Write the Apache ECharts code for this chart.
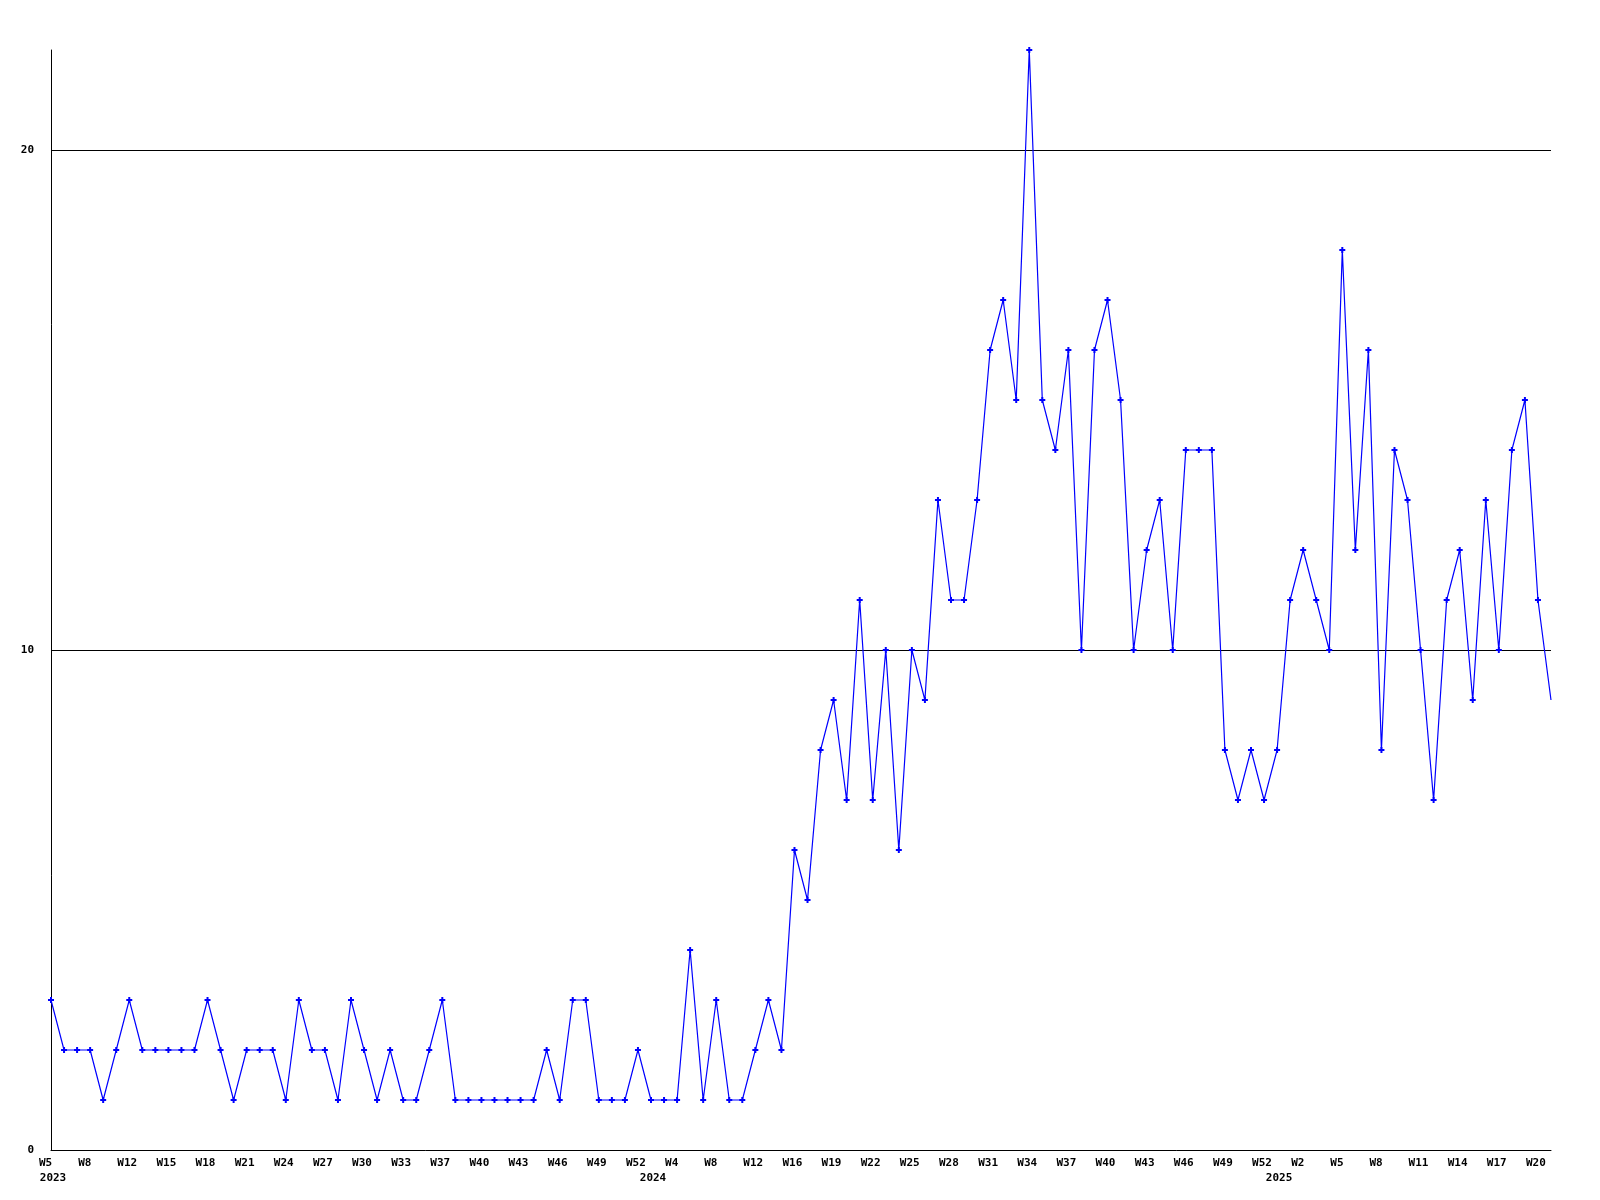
<!DOCTYPE html>
<html>
<head>
<meta charset="utf-8">
<script src="https://cdn.jsdelivr.net/npm/echarts@6/dist/echarts.min.js"></script>
<style>
html,body{margin:0;padding:0;background:#fff;}
#chart{width:1600px;height:1200px;}
</style>
</head>
<body>
<div id="chart"></div>
<script>
// Tick labels shown every 3rd point on the x axis
var tickLabels = ['W5','W8','W12','W15','W18','W21','W24','W27','W30','W33','W37','W40','W43','W46','W49','W52',
  'W4','W8','W12','W16','W19','W22','W25','W28','W31','W34','W37','W40','W43','W46','W49','W52',
  'W2','W5','W8','W11','W14','W17','W20','W23'];
// Year labels and the category index where each year starts
var yearLabels = ['2023','2024','2025'];
var yearStartIndex = [0, 46, 94];
// Weekly counts
var values = [
  3,2,2,2,1,2,3,2,2,2,2,2,3,2,1,2,2,2,1,3,2,2,1,3,2,1,2,1,1,2,
  3,1,1,1,1,1,1,1,2,1,3,3,1,1,1,2,1,1,1,4,1,3,1,1,2,3,2,6,5,8,
  9,7,11,7,10,6,10,9,13,11,11,13,16,17,15,22,15,14,16,10,16,17,15,10,12,13,10,14,14,14,
  8,7,8,7,8,11,12,11,10,18,12,16,8,14,13,10,7,11,12,9,13,10,14,15,11,9
];

var categories = values.map(function(v, i){
  var base = tickLabels[Math.floor(i/3)];
  return i % 3 === 0 ? base : base + '+' + (i % 3);
});

var yearMap = {};
yearStartIndex.forEach(function(idx, k){ yearMap[idx] = yearLabels[k]; });

var seriesData = values.map(function(v, i){
  return i === values.length - 1 ? {value:v, symbol:'none'} : v;
});

var labelFont = {fontFamily:'DejaVu Sans Mono', fontWeight:'bold', fontSize:11, color:'#000'};

var chart = echarts.init(document.getElementById('chart'), null, {renderer:'canvas'});
chart.setOption({
  animation:false,
  backgroundColor:'#fff',
  grid:{left:51, right:49, top:50, bottom:50, containLabel:false},
  xAxis:[{
    type:'category',
    data:categories,
    boundaryGap:false,
    axisLine:{show:true, lineStyle:{color:'#000', width:1}},
    axisTick:{show:false},
    splitLine:{show:false},
    axisLabel:Object.assign({
      interval:function(i){ return i % 3 === 0; },
      margin:8,
      align:'left',
      padding:[0,0,0,-12],
      formatter:function(v, i){ return tickLabels[Math.floor(i/3)]; }
    }, labelFont)
  },{
    type:'category',
    data:categories,
    boundaryGap:false,
    position:'bottom',
    offset:0,
    axisLine:{show:false},
    axisTick:{show:false},
    splitLine:{show:false},
    axisLabel:Object.assign({
      interval:function(i){ return yearMap[i] !== undefined; },
      margin:23,
      padding:[0,0,0,4],
      formatter:function(v, i){ return yearMap[i] || ''; }
    }, labelFont)
  }],
  yAxis:{
    type:'value',
    min:0, max:22, interval:10,
    axisLine:{show:true, lineStyle:{color:'#000', width:1}},
    axisTick:{show:false},
    splitLine:{show:true, showMaxLine:false, showMinLine:false, lineStyle:{color:'#000', width:1}},
    axisLabel:Object.assign({margin:17, showMaxLabel:false}, labelFont)
  },
  series:[{
    type:'line',
    xAxisIndex:0,
    data:seriesData,
    symbol:'path://M2,0H4V2H6V4H4V6H2V4H0V2H2Z',
    symbolSize:6,
    showAllSymbol:true,
    itemStyle:{color:'#0000ff'},
    lineStyle:{color:'#0000ff', width:1.2},
    emphasis:{disabled:true}
  }]
});
</script>
</body>
</html>
